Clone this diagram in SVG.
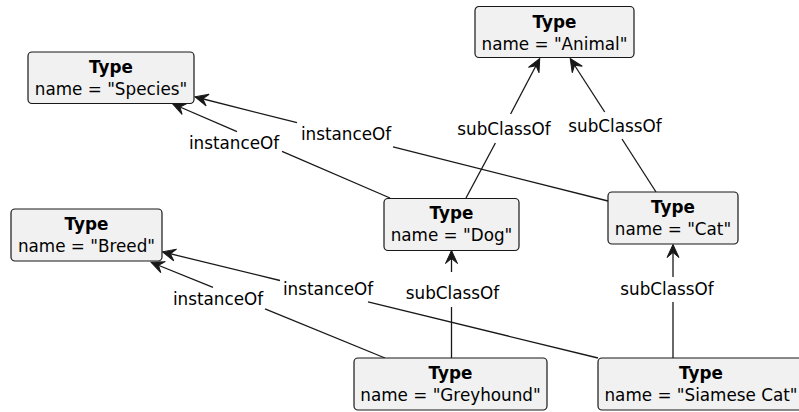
<svg xmlns="http://www.w3.org/2000/svg" width="799" height="412" viewBox="0 0 799 412">
<style>
.box{fill:#F1F1F1;stroke:#181818;stroke-width:1.2}
.t{font-family:"DejaVu Sans",sans-serif;font-size:16.8px;fill:#000;text-anchor:middle}
.b{font-weight:bold}
.e{fill:none;stroke:#181818;stroke-width:1.3}
.ea{fill:none;stroke:#181818;stroke-width:1.3;marker-end:url(#arr)}
</style>
<defs>
<marker id="arr" markerUnits="userSpaceOnUse" markerWidth="16" markerHeight="16" refX="12.5" refY="6" orient="auto" overflow="visible">
<path d="M0,0 L13,6 L0,12 L5,6 Z" fill="#181818" stroke="#181818" stroke-width="1" stroke-linejoin="miter"/>
</marker>
</defs>
<g id="connectors">
<g id="dog-animal">
<line class="e" x1="466" y1="198" x2="495.4" y2="143"/>
<line class="ea" x1="510.6" y1="114" x2="539.5" y2="59"/>
<text class="t" x="504" y="135">subClassOf</text>
</g>
<g id="cat-animal">
<line class="e" x1="656" y1="192" x2="622" y2="139"/>
<line class="ea" x1="604.7" y1="112" x2="570.5" y2="59"/>
<text class="t" x="615" y="132">subClassOf</text>
</g>
<g id="dog-species">
<line class="e" x1="390" y1="198" x2="282" y2="151.4"/>
<line class="ea" x1="237" y1="131.6" x2="173" y2="104"/>
<text class="t" x="234" y="149">instanceOf</text>
</g>
<g id="cat-species">
<line class="e" x1="608" y1="201" x2="393" y2="146.9"/>
<line class="ea" x1="297" y1="122.7" x2="195.5" y2="97"/>
<text class="t" x="346" y="140">instanceOf</text>
</g>
<g id="greyhound-breed">
<line class="e" x1="385" y1="358" x2="265" y2="308.8"/>
<line class="ea" x1="213" y1="287.4" x2="151.5" y2="262.5"/>
<text class="t" x="218" y="305">instanceOf</text>
</g>
<g id="siamese-breed">
<line class="e" x1="598" y1="358" x2="368" y2="301.9"/>
<line class="ea" x1="280" y1="280.5" x2="163" y2="252"/>
<text class="t" x="328" y="295">instanceOf</text>
</g>
<g id="greyhound-dog">
<line class="e" x1="451.5" y1="358" x2="451.5" y2="307"/>
<line class="ea" x1="451.5" y1="272" x2="451.5" y2="251"/>
<text class="t" x="452.5" y="299">subClassOf</text>
</g>
<g id="siamese-cat">
<line class="e" x1="673" y1="358" x2="673" y2="302"/>
<line class="ea" x1="673" y1="277" x2="673" y2="245"/>
<text class="t" x="667" y="295">subClassOf</text>
</g>
</g>
<g id="animal">
<rect class="box" x="475" y="6.5" width="159" height="51" rx="4"/>
<text class="t b" x="554.5" y="27.5">Type</text>
<text class="t" x="554.5" y="49.5">name = "Animal"</text>
</g>
<g id="species">
<rect class="box" x="28" y="52" width="166" height="51.5" rx="4"/>
<text class="t b" x="111" y="72.5">Type</text>
<text class="t" x="111" y="94.5">name = "Species"</text>
</g>
<g id="breed">
<rect class="box" x="11" y="209" width="151" height="52" rx="4"/>
<text class="t b" x="86.5" y="229.5">Type</text>
<text class="t" x="86.5" y="251.5">name = "Breed"</text>
</g>
<g id="dog">
<rect class="box" x="384" y="198.5" width="135" height="52" rx="4"/>
<text class="t b" x="451.5" y="219">Type</text>
<text class="t" x="451.5" y="241">name = "Dog"</text>
</g>
<g id="cat">
<rect class="box" x="608" y="192" width="130" height="52" rx="4"/>
<text class="t b" x="673" y="212.5">Type</text>
<text class="t" x="673" y="234.5">name = "Cat"</text>
</g>
<g id="greyhound">
<rect class="box" x="354" y="358" width="193" height="52" rx="4"/>
<text class="t b" x="450.5" y="378.5">Type</text>
<text class="t" x="450.5" y="400.5">name = "Greyhound"</text>
</g>
<g id="siamese">
<rect class="box" x="598" y="358" width="206" height="52" rx="4"/>
<text class="t b" x="701" y="378.5">Type</text>
<text class="t" x="701" y="400.5">name = "Siamese Cat"</text>
</g>
</svg>
